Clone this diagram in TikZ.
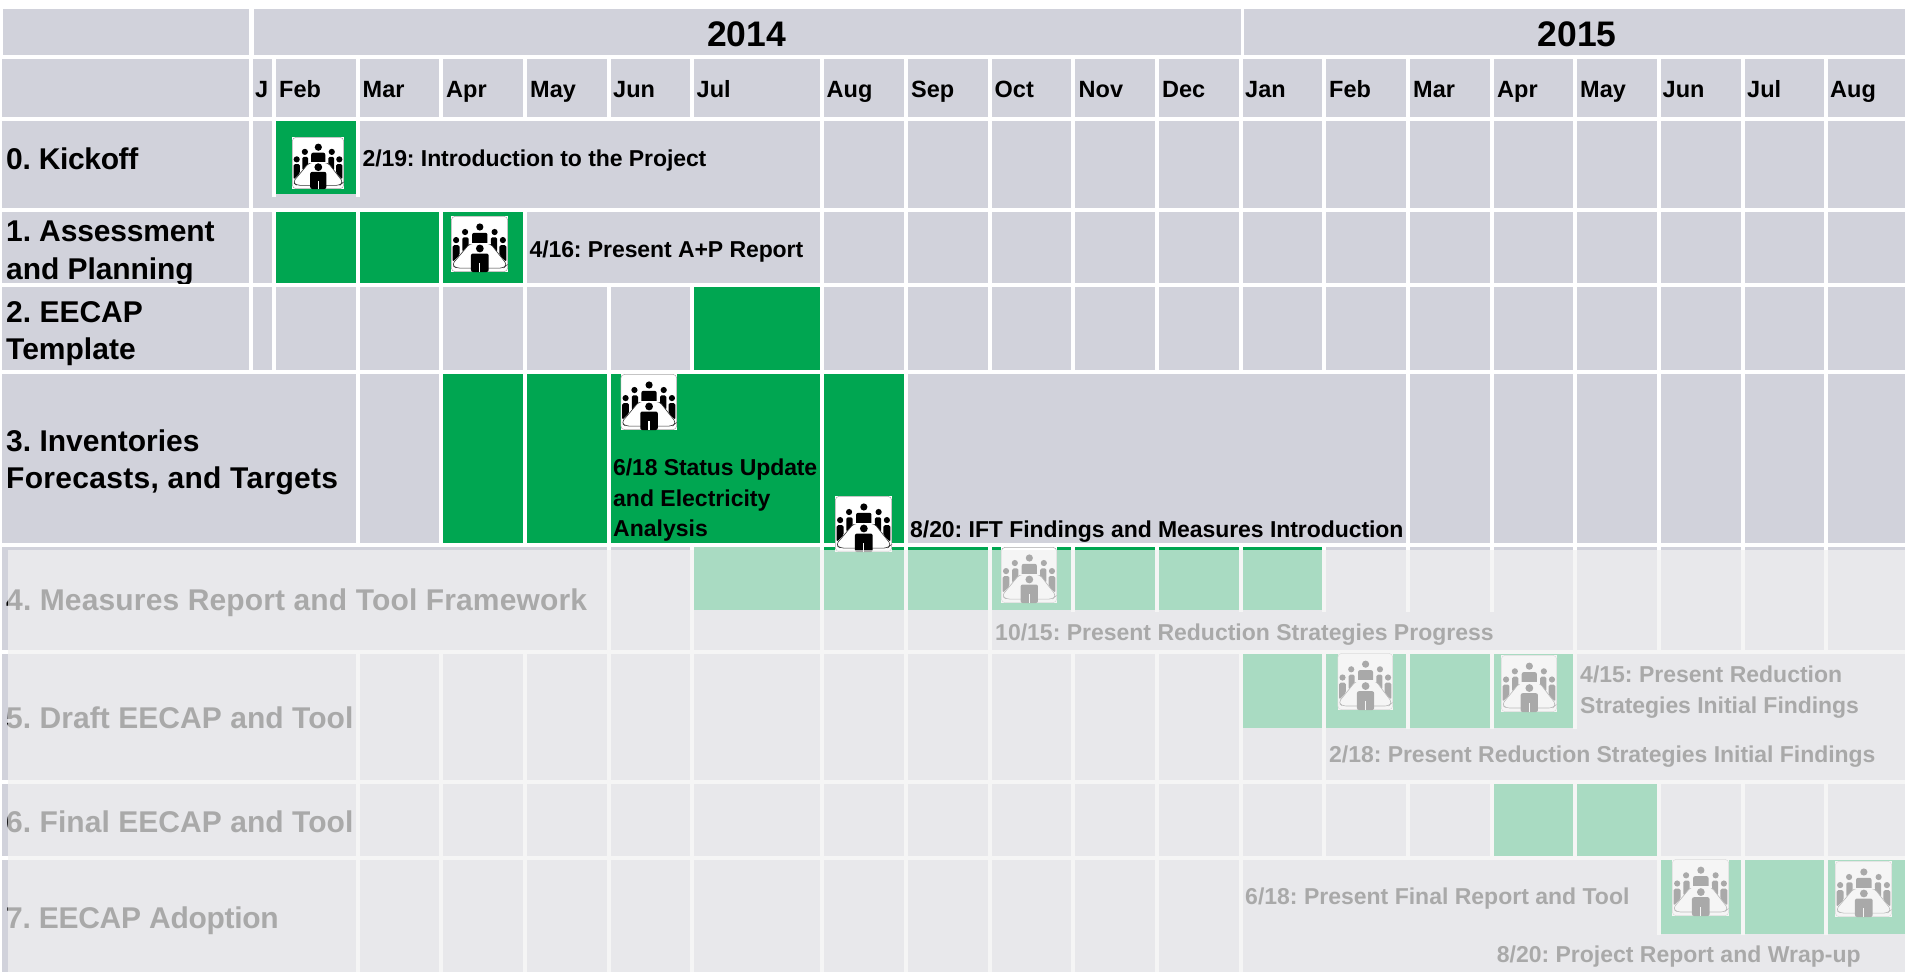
\documentclass[tikz,border=0pt]{standalone}
\usepackage{fontspec}
\setmainfont{Liberation Sans}
\definecolor{cellgray}{HTML}{D1D2DB}
\definecolor{bargreen}{HTML}{00A651}
\definecolor{veil}{HTML}{F2F2F2}
\tikzset{
  yeartext/.style={anchor=base,inner sep=0pt,font=\fontsize{35.5}{36}\selectfont\bfseries},
  monthtext/.style={anchor=base west,inner sep=0pt,font=\fontsize{23.5}{24}\selectfont\bfseries},
  rowtext/.style={anchor=base west,inner sep=0pt,font=\fontsize{30}{31}\selectfont\bfseries},
  notetext/.style={anchor=base west,inner sep=0pt,font=\fontsize{23}{24}\selectfont\bfseries},
}
\newcommand{\cellrow}[4]{\foreach \a/\b in {#4}{\fill[#1] (\a,#2) rectangle (\b,#3);}}
\newcommand{\meeting}[4]{%
\begin{scope}[shift={(#1,#2)},x={(#3pt,0pt)},y={(0pt,-#4pt)}]
  \fill[white] (0,0) rectangle (1,1);
  \draw[gray!70,line width=.5pt,rounded corners=4pt] (0.005,0.005) rectangle (0.995,0.995);
  \fill[black] (.506,.196) circle[radius=3.6pt];
  \fill[black,rounded corners=2pt] (.37,.52) -- (.37,.30) -- (.64,.30) -- (.64,.52) -- cycle;
  \fill[black] (.247,.286) circle[radius=3.1pt] (.765,.286) circle[radius=3.1pt];
  \fill[black,rounded corners=1.5pt] (.20,.64) -- (.20,.38) -- (.31,.38) -- (.31,.64) -- cycle;
  \fill[black,rounded corners=1.5pt] (.70,.64) -- (.70,.38) -- (.81,.38) -- (.81,.64) -- cycle;
  \fill[black] (.09,.43) circle[radius=3.1pt] (.91,.43) circle[radius=3.1pt];
  \fill[black,rounded corners=1.5pt] (.03,.82) -- (.03,.52) -- (.15,.52) -- (.15,.70) -- cycle;
  \fill[black,rounded corners=1.5pt] (.97,.82) -- (.97,.52) -- (.85,.52) -- (.85,.70) -- cycle;
  \filldraw[fill=white,draw=black!80,line width=.6pt,rounded corners=3.5pt]
     (.33,.49) -- (.69,.49) -- (.985,.87) -- (.92,.93) -- (.09,.93) -- (.015,.87) -- cycle;
  \fill[white] (.32,.475) rectangle (.70,.50);
  \fill[black] (.506,.58) circle[radius=3.9pt];
  \fill[black,rounded corners=2pt] (.35,1) -- (.35,.67) -- (.66,.67) -- (.66,1) -- cycle;
  \fill[white] (.495,.84) rectangle (.517,1);
\end{scope}}
\begin{document}
\frenchspacing
\begin{tikzpicture}[x=1pt,y=-1pt]
\useasboundingbox (0,0) rectangle (1905,972);
\fill[white] (0,0) rectangle (1905,972);
% header rows
\cellrow{cellgray}{9}{55}{3/249,254/1241,1244/1905}
\cellrow{cellgray}{59}{117}{2/249,253/272,276/356,360/439,443/523,527/607,611/690,694/820,824/904,908/988,992/1071,1075/1155,1159/1239,1243/1322,1326/1406,1410/1490,1494/1573,1577/1657,1661/1741,1745/1824,1828/1905}
% row 0
\cellrow{cellgray}{121}{208}{2/249,253/820,824/904,908/988,992/1071,1075/1155,1159/1239,1243/1322,1326/1406,1410/1490,1494/1573,1577/1657,1661/1741,1745/1824,1828/1905}
\cellrow{white}{121}{197}{272/276,356/360}
\cellrow{bargreen}{121}{194}{276/356}
% row 1
\cellrow{cellgray}{212}{283}{2/249,253/272,527/820,824/904,908/988,992/1071,1075/1155,1159/1239,1243/1322,1326/1406,1410/1490,1494/1573,1577/1657,1661/1741,1745/1824,1828/1905}
\cellrow{bargreen}{212}{283}{276/356,360/439,443/523}
% row 2
\cellrow{cellgray}{287}{370}{2/249,253/272,276/356,360/439,443/523,527/607,611/690,824/904,908/988,992/1071,1075/1155,1159/1239,1243/1322,1326/1406,1410/1490,1494/1573,1577/1657,1661/1741,1745/1824,1828/1905}
\cellrow{bargreen}{287}{370}{694/820}
% row 3
\cellrow{cellgray}{374}{543}{2/356,360/439,908/1406,1410/1490,1494/1573,1577/1657,1661/1741,1745/1824,1828/1905}
\cellrow{bargreen}{374}{543}{443/523,527/607,611/820,824/904}
% row 4
\cellrow{cellgray}{547}{650}{2/607,611/690,694/820,824/904,908/988,992/1573,1577/1657,1661/1741,1745/1824,1828/1905}
\cellrow{white}{547}{612}{1071/1075,1155/1159,1239/1243,1322/1326,1406/1410,1490/1494}
\cellrow{bargreen}{547}{610}{694/820,824/904,908/988,992/1071,1075/1155,1159/1239,1243/1322}
% row 5
\cellrow{cellgray}{654}{780}{2/356,360/439,443/523,527/607,611/690,694/820,824/904,908/988,992/1071,1075/1155,1159/1239,1243/1322,1326/1905}
\cellrow{white}{654}{729}{1406/1410,1490/1494,1573/1577}
\cellrow{bargreen}{654}{728}{1243/1322,1326/1406,1410/1490,1494/1573}
% row 6
\cellrow{cellgray}{784}{856}{2/356,360/439,443/523,527/607,611/690,694/820,824/904,908/988,992/1071,1075/1155,1159/1239,1243/1322,1326/1406,1410/1490,1494/1573,1577/1657,1661/1741,1745/1824,1828/1905}
\cellrow{bargreen}{784}{856}{1494/1573,1577/1657}
% row 7
\cellrow{cellgray}{860}{972}{2/356,360/439,443/523,527/607,611/690,694/820,824/904,908/988,992/1071,1075/1155,1159/1239,1243/1905}
\cellrow{white}{860}{935}{1657/1661,1741/1745,1824/1828}
\cellrow{bargreen}{860}{934}{1661/1741,1745/1824,1828/1905}
% headers
\node[yeartext] (y14) at (746.5,46) {2014};
\node[yeartext] (y15) at (1577,46) {2015};
\foreach \nm/\xx/\tx in {m1/255/J,m2/279/Feb,m3/362.5/Mar,m4/446/Apr,m5/530/May,m6/613/Jun,m7/696.5/Jul,m8/826.5/Aug,m9/911/Sep,m10/994.5/Oct,m11/1078.5/Nov,m12/1162/Dec,m13/1245/Jan,m14/1329/Feb,m15/1413/Mar,m16/1497/Apr,m17/1580/May,m18/1662.5/Jun,m19/1747/Jul,m20/1830/Aug}
  {\node[monthtext] (\nm) at (\xx,97.3) {\tx};}
% row labels
\node[rowtext] (r0) at (6,169) {\addfontfeatures{LetterSpace=-1.2}0. Kickoff};
\begin{scope}
  \clip (0,212) rectangle (249,283);
  \node[rowtext] (r1a) at (6,241.5) {\addfontfeatures{LetterSpace=-.5}1. Assessment};
  \node[rowtext] (r1b) at (6,279) {\addfontfeatures{LetterSpace=-.3}and Planning};
\end{scope}
\node[rowtext] (r2a) at (6,322) {2. EECAP};
\node[rowtext] (r2b) at (6,359.5) {Template};
\node[rowtext] (r3a) at (6,451.5) {3. Inventories};
\node[rowtext] (r3b) at (6,488.5) {\addfontfeatures{LetterSpace=1}Forecasts, and Targets};
\node[rowtext] (r4) at (6,610) {\addfontfeatures{LetterSpace=.5}4. Measures Report and Tool Framework};
\node[rowtext] (r5) at (6,728.5) {\addfontfeatures{LetterSpace=.2}5. Draft EECAP and Tool};
\node[rowtext] (r6) at (6,832) {\addfontfeatures{LetterSpace=.2}6. Final EECAP and Tool};
\node[rowtext] (r7) at (6,928.3) {\addfontfeatures{LetterSpace=-1}7. EECAP Adoption};
% notes
\node[notetext] (n0) at (362.4,166.7) {\addfontfeatures{LetterSpace=-.4}2/19: Introduction to the Project};
\node[notetext] (n1) at (529.4,257.7) {\addfontfeatures{LetterSpace=-.4}4/16: Present A+P Report};
\node[notetext] (n2) at (613,475) {\addfontfeatures{LetterSpace=-.5}6/18 Status Update};
\node[notetext] (n3) at (613,506) {and Electricity};
\node[notetext] (n4) at (613,536.7) {Analysis};
\node[notetext] (n5) at (910,537.2) {\addfontfeatures{LetterSpace=-.3}8/20: IFT Findings and Measures Introduction};
\node[notetext] (n6) at (995,640) {10/15: Present Reduction Strategies Progress};
\node[notetext] (n7) at (1329,762.7) {\addfontfeatures{LetterSpace=-.2}2/18: Present Reduction Strategies Initial Findings};
\node[notetext] (n8) at (1580,682.7) {4/15: Present Reduction};
\node[notetext] (n9) at (1580,713.3) {\addfontfeatures{LetterSpace=-.2}Strategies Initial Findings};
\node[notetext] (n10) at (1245,904) {6/18: Present Final Report and Tool};
\node[notetext] (n11) at (1496.6,962.7) {8/20: Project Report and Wrap-up};
% meeting icons
\meeting{292}{137}{52}{52}
\meeting{451}{216}{57}{56}
\meeting{620.5}{374}{56.5}{56}
\meeting{835}{496}{57}{56}
\meeting{1001}{547}{56}{56}
\meeting{1337.5}{653}{55.5}{57}
\meeting{1501}{655}{56}{57}
\meeting{1672}{859}{57}{57}
\meeting{1835}{861}{57}{56}
% fading veil
\fill[veil,fill opacity=.7] (8,550) rectangle (1905,972);
\fill[veil,fill opacity=.7] (694,547) rectangle (820,550);
\end{tikzpicture}
\end{document}
